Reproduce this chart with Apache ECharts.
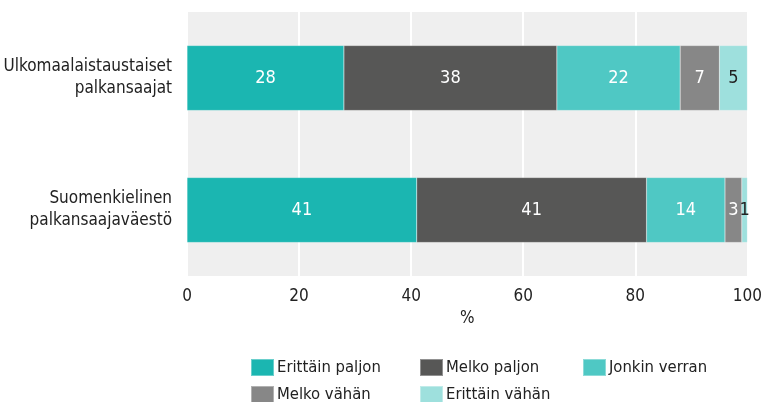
<!DOCTYPE html>
<html><head><meta charset="utf-8">
<script src="https://cdn.jsdelivr.net/npm/echarts@6/dist/echarts.min.js"></script>
<style>html,body{margin:0;padding:0;background:#fff}#c{width:765px;height:402px}</style>
</head><body><div id="c"></div>
<script>
var categories = ['Ulkomaalaistaustaiset\npalkansaajat', 'Suomenkielinen\npalkansaajaväestö'];
var seriesNames = ['Erittäin paljon', 'Melko paljon', 'Jonkin verran', 'Melko vähän', 'Erittäin vähän'];
var erittainPaljon = [28, 41];
var melkoPaljon = [38, 41];
var jonkinVerran = [22, 14];
var melkoVahan = [7, 3];
var erittainVahan = [5, 1];
var xTicks = [0, 20, 40, 60, 80, 100];

var values = [erittainPaljon, melkoPaljon, jonkinVerran, melkoVahan, erittainVahan];
var colors = ['#1bb6b1', '#575756', '#4fc8c4', '#878787', '#9ee0dd'];
var labelColors = ['#ffffff', '#ffffff', '#ffffff', '#ffffff', '#222222'];
var FONT = '"DejaVu Sans Condensed", "Liberation Sans", sans-serif';

var series = seriesNames.map(function (n, i) {
  return {
    name: n, type: 'bar', stack: 'all', barWidth: 65,
    data: values[i],
    itemStyle: { color: colors[i], borderColor: 'rgba(255,255,255,0.35)', borderWidth: 0.5 },
    label: { show: true, position: 'inside', color: labelColors[i], fontSize: 18, fontFamily: FONT },
    emphasis: { disabled: true }
  };
});

var legendPos = [[250, 358], [419, 358], [582, 358], [250, 385], [419, 385]];
var legends = seriesNames.map(function (n, i) {
  return {
    data: [n], left: legendPos[i][0], top: legendPos[i][1], padding: 0,
    itemWidth: 23, itemHeight: 17, itemGap: 3, icon: 'rect',
    selectedMode: false,
    textStyle: { fontSize: 16.5, fontFamily: FONT, color: '#222', padding: [0, 0, 0, -2] }
  };
});

var chart = echarts.init(document.getElementById('c'), null, { renderer: 'canvas' });
chart.setOption({
  animation: false,
  textStyle: { fontFamily: FONT },
  grid: { left: 187, right: 16, top: 12, bottom: 126, show: true, backgroundColor: '#efefef', borderWidth: 0 },
  legend: legends,
  xAxis: {
    type: 'value', min: xTicks[0], max: xTicks[xTicks.length - 1], interval: 20,
    name: '%', nameLocation: 'middle', nameGap: 33,
    nameTextStyle: { fontSize: 17, color: '#222', fontFamily: FONT },
    axisLine: { show: false }, axisTick: { show: false },
    axisLabel: { fontSize: 17, color: '#222', margin: 12, fontFamily: FONT },
    splitLine: { show: true, lineStyle: { color: '#ffffff', width: 2 } }
  },
  yAxis: {
    type: 'category', data: categories, inverse: true,
    axisLine: { show: false }, axisTick: { show: false },
    axisLabel: { fontSize: 17, color: '#222', margin: 15, lineHeight: 22, align: 'right', fontFamily: FONT },
    splitLine: { show: false }
  },
  series: series
});
</script></body></html>
